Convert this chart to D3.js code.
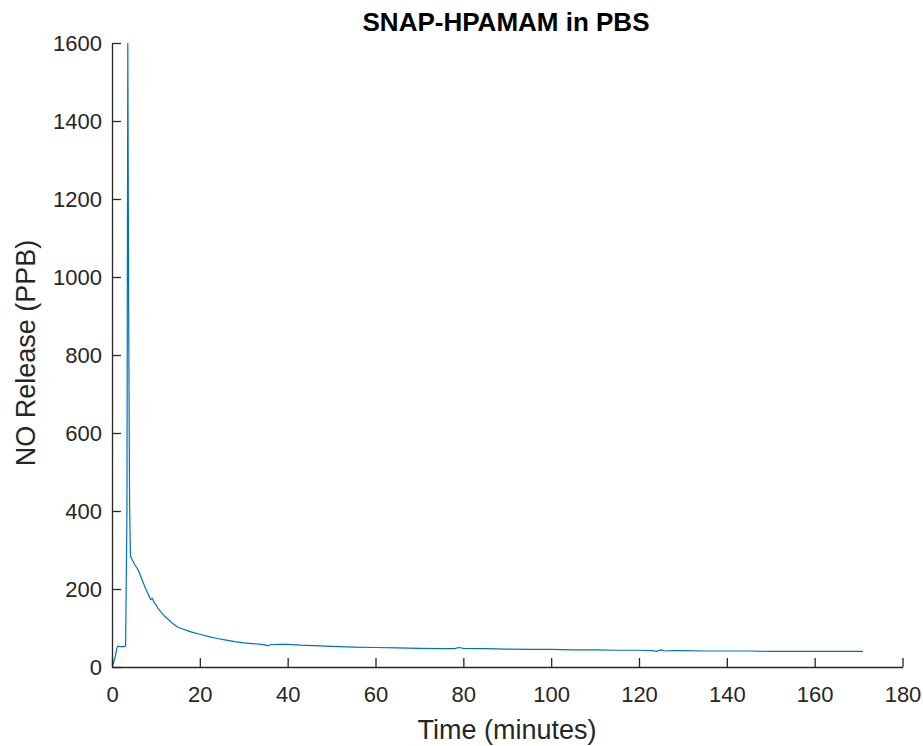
<!DOCTYPE html>
<html><head><meta charset="utf-8">
<script src="https://cdn.jsdelivr.net/npm/d3@7"></script>
<style>body{margin:0;background:#fff}svg{display:block}</style>
</head><body>
<script>
const timeMin = [0,0.4,0.8,1.1,1.4,1.8,2.4,2.9,3.1,3.4,3.6,3.8,4.0,4.2,4.6,5.2,6,6.8,7.5,8.2,8.8,9.2,9.6,10,10.5,11,12,13,14,15,16,17,18,20,22,24,26,28,30,32,34,35,35.5,36,38,40,43,46,50,55,60,65,70,75,78,79,80,85,90,95,100,105,110,115,120,123,124,125,126,128,130,135,140,145,150,155,160,165,168,171];
const noPPB   = [0,12,30,48,54,52,53,52,54,400,1600,900,420,285,275,262,248,225,205,188,173,176,165,160,150,143,130,120,110,102,98,94,90,84,78,73,69,65,62,60,58,56,54,57,58,58,56,55,53,51,50,49,48,47,47,50,48,47,46,45,45,44,44,43,43,42,40,44,41,42,42,41,41,41,40,40,40,40,40,40];
const xTicks = [0,20,40,60,80,100,120,140,160,180];
const yTicks = [0,200,400,600,800,1000,1200,1400,1600];

const W=923,H=746;
const m={l:112,r:20.5,t:43,b:79};
const FF="'Liberation Sans',Arial,Helvetica,sans-serif";
const svg=d3.select("body").append("svg").attr("width",W).attr("height",H)
  .style("font-family",FF);
const x=d3.scaleLinear().domain([0,180]).range([m.l,W-m.r]);
const y=d3.scaleLinear().domain([0,1600]).range([H-m.b,m.t]);
const axCol="#262626";

svg.append("defs").append("clipPath").attr("id","c").append("rect")
  .attr("x",m.l).attr("y",m.t-1).attr("width",W-m.r-m.l).attr("height",H-m.b-m.t+1);

svg.append("path").datum(timeMin.map((t,i)=>[t,noPPB[i]]))
  .attr("clip-path","url(#c)")
  .attr("fill","none").attr("stroke","#0072BD").attr("stroke-width",1.2)
  .attr("d",d3.line().x(d=>x(d[0])).y(d=>y(d[1])));

const xa=svg.append("g").attr("transform",`translate(0,${H-m.b})`)
  .call(d3.axisBottom(x).tickValues(xTicks).tickFormat(d3.format("d")).tickSize(-9).tickPadding(19).tickSizeOuter(0));
const ya=svg.append("g").attr("transform",`translate(${m.l},0)`)
  .call(d3.axisLeft(y).tickValues(yTicks).tickFormat(d3.format("d")).tickSize(-9).tickPadding(10).tickSizeOuter(0));
[xa,ya].forEach(a=>{
  a.selectAll("path,line").attr("stroke",axCol).attr("stroke-width",1.3);
  a.selectAll("text").attr("fill",axCol).style("font-size","22px").style("font-family",FF);
});

svg.append("text").attr("x",506).attr("y",31).attr("text-anchor","middle")
  .attr("font-weight","bold").attr("font-size","26px").attr("fill","#000").text("SNAP-HPAMAM in PBS");
svg.append("text").attr("x",507).attr("y",739).attr("text-anchor","middle")
  .attr("font-size","27px").attr("fill",axCol).text("Time (minutes)");
svg.append("text").attr("transform",`translate(35,353) rotate(-90)`).attr("text-anchor","middle")
  .attr("font-size","27px").attr("fill",axCol).text("NO Release (PPB)");
</script>
</body></html>
